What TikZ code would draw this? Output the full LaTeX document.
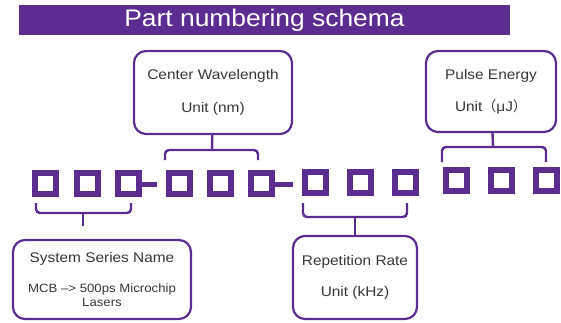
\documentclass[tikz,border=0pt]{standalone}
\usepackage{fontspec}
\setmainfont{Liberation Sans}[FakeStretch=1.1]
\newfontfamily\cjk{Noto Sans CJK SC}
\usetikzlibrary{positioning}
\definecolor{schemapurple}{RGB}{92,45,145}
\definecolor{labelgray}{RGB}{55,55,55}

\begin{document}
\begin{tikzpicture}[x=1pt,y=-1pt]
      \tikzstyle{digit}=[rectangle, draw=schemapurple, line width=6pt, minimum size=21pt, inner sep=0pt]
      \tikzstyle{hyph}=[rectangle, fill=schemapurple, minimum width=17pt, minimum height=5pt, inner sep=0pt]
      \tikzstyle{info}=[rectangle, rounded corners=12pt, draw=schemapurple, line width=2.2pt, align=center, text=labelgray, font=\fontsize{14}{17}\selectfont]
      \tikzstyle{brace}=[draw=schemapurple, line width=2.4pt, rounded corners=4pt]
      \tikzstyle{banner}=[rectangle, fill=schemapurple, text=white, minimum width=491pt, minimum height=30pt, inner sep=0pt, font=\fontsize{24}{28}\selectfont]

      \useasboundingbox (0,0) rectangle (561,323);

      \node[banner] (title) at (264.5,20) {Part numbering schema};

      % the four groups of digits
      \node[digit] (a1) at (45.5,183) {};
      \node[digit, right=15pt of a1] (a2) {};
      \node[digit, right=14pt of a2] (a3) {};
      \node[hyph] (h1) at (148.5,184) {};
      \node[digit] (b1) at (179,183) {};
      \node[digit, right=14pt of b1] (b2) {};
      \node[digit, right=14pt of b2] (b3) {};
      \node[hyph, minimum width=20pt] (h2) at (283,184) {};
      \node[digit] (c1) at (315,182) {};
      \node[digit, right=18pt of c1] (c2) {};
      \node[digit, right=18pt of c2] (c3) {};
      \node[digit] (d1) at (456.5,180) {};
      \node[digit, right=18pt of d1] (d2) {};
      \node[digit, right=18pt of d2] (d3) {};

      % labels
      \node[info, minimum width=158pt, minimum height=83pt] (wl) at (213,92.5)
        {Center Wavelength\\[16pt]Unit (nm)};
      \node[info, minimum width=130pt, minimum height=81pt] (pe) at (491,91.5)
        {Pulse Energy\\[15pt]Unit{\cjk （}μJ{\cjk ）}};
      \node[info, minimum width=178pt, minimum height=79pt] (ss) at (102,279.5)
        {System Series Name\\[13pt]{\fontsize{12}{14}\selectfont MCB –> 500ps Microchip}\\[-3pt]{\fontsize{12}{14}\selectfont Lasers}};
      \node[info, minimum width=124pt, minimum height=83pt] (rr) at (355,277.5)
        {Repetition Rate\\[14pt]Unit (kHz)};

      % braces
      \coordinate (aL) at (36,203);
      \coordinate (aR) at (131,203);
      \coordinate (aM) at (83,213);
      \coordinate (aE) at (83,226);
      \draw[brace] (aL) |- (aM) -| (aR);
      \draw[brace] (aM) -- (aE);

      \coordinate (bL) at (165,160);
      \coordinate (bR) at (258,160);
      \coordinate (bM) at (212,150);
      \draw[brace] (bL) |- (bM) -| (bR);
      \draw[brace] (bM) -- (wl);

      \coordinate (cL) at (303,203);
      \coordinate (cR) at (407,203);
      \coordinate (cM) at (355,217);
      \draw[brace] (cL) |- (cM) -| (cR);
      \draw[brace] (cM) -- (rr);

      \coordinate (dL) at (442,162);
      \coordinate (dR) at (546,162);
      \coordinate (dM) at (493,147);
      \draw[brace] (dL) |- (dM) -| (dR);
      \draw[brace] (dM) -- (pe);
\end{tikzpicture}
\end{document}
